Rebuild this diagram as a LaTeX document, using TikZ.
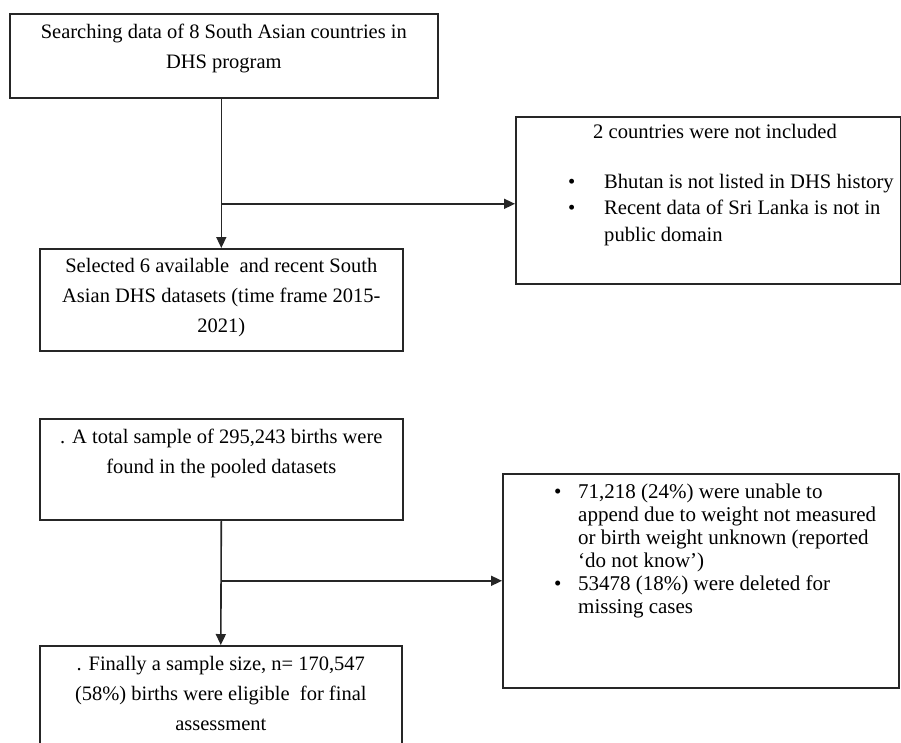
\documentclass[tikz,border=0pt]{standalone}
\usepackage{fontspec}
\setmainfont{Liberation Serif}
\usetikzlibrary{arrows.meta}
\begin{document}
\begin{tikzpicture}[x=1pt,y=-1pt,
  box/.style={draw=black!85, line width=1.6pt, inner sep=0pt, anchor=north west},
  txt/.style={inner sep=0pt, font=\fontsize{20.5}{30}\selectfont, align=center, anchor=north},
  rtxt/.style={inner sep=0pt, align=left, anchor=north west},
  arr/.style={draw=black!85, line width=1.6pt, -{Triangle[length=11pt,width=10pt]}},
  ln/.style={draw=black!85, line width=1.6pt}]
\useasboundingbox (0,0) rectangle (901,742);
\clip (0,0) rectangle (901,742);
\fill[white] (0,0) rectangle (901,742);
% left boxes
\node[box, minimum width=428pt, minimum height=84pt] (b1) at (9,13) {};
\node[box, minimum width=363pt, minimum height=102pt] (b2) at (39,248) {};
\node[box, minimum width=363pt, minimum height=101pt] (b3) at (39,418) {};
\node[box, minimum width=362pt, minimum height=120pt] (b4) at (39,645) {};
% right boxes
\node[box, minimum width=385pt, minimum height=167pt] (rA) at (515,116) {};
\node[box, minimum width=396pt, minimum height=214pt] (rB) at (502,473) {};
% texts
\node[txt] (t1) at ([yshift=-11pt]b1.north) {Searching data of 8 South Asian countries in\\DHS program};
\node[txt] (t2) at ([yshift=-10pt]b2.north) {Selected 6 available\ \ and recent South\\Asian DHS datasets (time frame 2015-\\2021)};
\node[txt] (t3) at ([yshift=-11pt]b3.north) {. A total sample of 295,243 births were\\found in the pooled datasets};
\node[txt] (t4) at ([yshift=-11pt]b4.north) {. Finally a sample size, n= 170,547\\(58\%) births were eligible\ \ for final\\assessment};
\node[rtxt, font=\fontsize{20.6}{26.5}\selectfont] (tA1) at (593,124) {2 countries were not included};
\node[rtxt, font=\fontsize{20.6}{26.5}\selectfont] (tA2) at (568,174) {\makebox[36pt][l]{\textbullet}Bhutan is not listed in DHS history\\\makebox[36pt][l]{\textbullet}Recent data of Sri Lanka is not in\\\hspace*{36pt}public domain};
\node[rtxt, font=\fontsize{21}{23}\selectfont] (tB) at (554,484) {\makebox[24pt][l]{\textbullet}71,218 (24\%) were unable to\\\hspace*{24pt}append due to weight not measured\\\hspace*{24pt}or birth weight unknown (reported\\\hspace*{24pt}‘do not know’)\\\makebox[24pt][l]{\textbullet}53478 (18\%) were deleted for\\\hspace*{24pt}missing cases};
% connectors
\draw[arr] (b2.north |- b1.south) -- (b2.north);
\coordinate (j1) at ([yshift=-3.5pt]b2.north |- rA.west);
\draw[arr] (j1) -- (rA.west |- j1);
\draw[arr] (b3.south) -- (b4.north);
\coordinate (j2) at (b3.south |- rB.west);
\draw[arr] (j2) -- (rB.west);
\end{tikzpicture}
\end{document}
